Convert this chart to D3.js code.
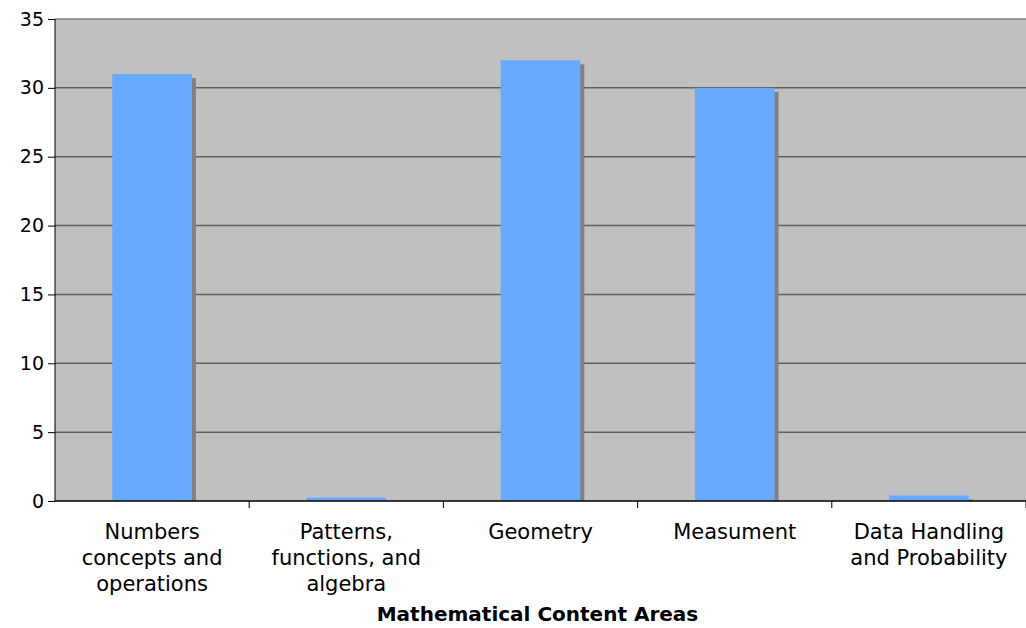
<!DOCTYPE html>
<html><head><meta charset="utf-8">
<script src="https://cdn.jsdelivr.net/npm/d3@7"></script>
<style>body{margin:0;background:#fff}svg{display:block}text{font-family:"DejaVu Sans",Verdana,sans-serif}</style>
</head><body><svg id="c" width="1026" height="628"></svg>
<script>
const categories = [["Numbers","concepts and","operations"],["Patterns,","functions, and","algebra"],["Geometry"],["Measument"],["Data Handling","and Probability"]];
const values = [31, 0.25, 32, 30, 0.4];
const yTicks = [0,5,10,15,20,25,30,35];
const xTitle = "Mathematical Content Areas";

const svg = d3.select("#c");
const L=55, R=1026, T=19, B=501;
const x = d3.scaleBand().domain(d3.range(categories.length)).range([L,R]).paddingInner(0).paddingOuter(0);
const y = d3.scaleLinear().domain([0,35]).range([B,T]);

svg.append("rect").attr("x",L).attr("y",T).attr("width",R-L).attr("height",B-T).attr("fill","#c0c0c0");
svg.append("g").selectAll("line").data(yTicks.filter(d=>d>0)).join("line")
  .attr("x1",L).attr("x2",R).attr("y1",d=>y(d)).attr("y2",d=>y(d))
  .attr("stroke",d=>d===35?"#808080":"#606060").attr("stroke-width",1.5);

const bw = x.bandwidth()*0.41;
const off = (x.bandwidth()-bw)/2;
const g = svg.append("g");
g.selectAll("rect.s").data(values).join("rect").attr("class","s")
  .attr("x",(d,i)=>x(i)+off+4).attr("width",bw)
  .attr("y",d=>Math.min(y(d)+4,B)).attr("height",d=>Math.max(0,B-(y(d)+4)))
  .attr("fill","#808080");
g.selectAll("rect.b").data(values).join("rect").attr("class","b")
  .attr("x",(d,i)=>x(i)+off).attr("width",bw)
  .attr("y",d=>y(d)).attr("height",d=>B-y(d))
  .attr("fill","#66aaff");

const ya = svg.append("g").attr("transform",`translate(${L},0)`)
  .call(d3.axisLeft(y).tickValues(yTicks).tickSize(7).tickPadding(4));
ya.select(".domain").attr("stroke","#000").attr("d",`M0,${T}V${B}`);
ya.selectAll(".tick line").attr("stroke","#000");
ya.selectAll("text").attr("font-size",19).attr("fill","#000").attr("font-family","DejaVu Sans");

svg.append("line").attr("x1",L).attr("x2",R).attr("y1",B).attr("y2",B).attr("stroke","#000").attr("stroke-width",1.5);
svg.append("g").selectAll("line").data(d3.range(categories.length)).join("line")
  .attr("x1",i=>x(i)+x.bandwidth()).attr("x2",i=>x(i)+x.bandwidth())
  .attr("y1",B).attr("y2",B+7).attr("stroke","#000");

const lab = svg.append("g").selectAll("text").data(categories).join("text")
  .attr("x",(d,i)=>x(i)+x.bandwidth()/2).attr("y",539)
  .attr("text-anchor","middle").attr("font-size",21).attr("fill","#000");
lab.selectAll("tspan").data(d=>d).join("tspan")
  .attr("x",function(){return this.parentNode.getAttribute("x");})
  .attr("dy",(d,i)=>i===0?0:26).text(d=>d);

svg.append("text").attr("x",(L+R)/2-3).attr("y",621).attr("text-anchor","middle")
  .attr("font-size",20).attr("font-weight","bold").text(xTitle);
</script></body></html>
